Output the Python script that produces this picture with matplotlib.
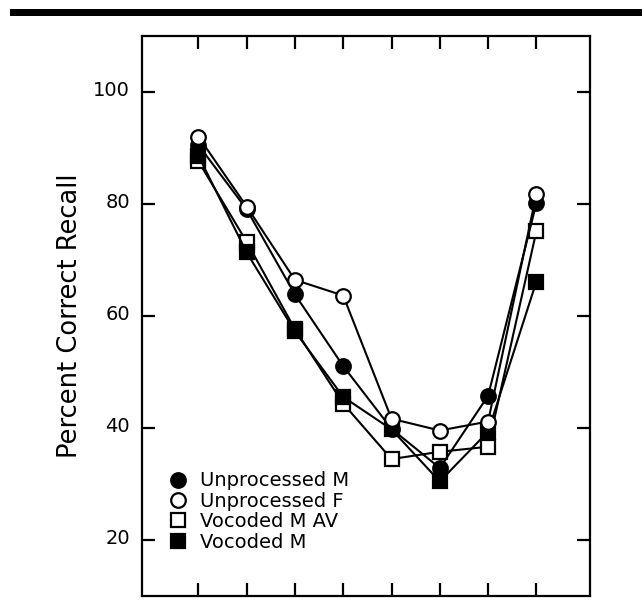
import matplotlib
matplotlib.use("Agg")
from matplotlib import pyplot as plt
from matplotlib.lines import Line2D
from matplotlib.patches import Rectangle
import matplotlib.transforms as mtransforms

# data
positions = [1, 2, 3, 4, 5, 6, 7, 8]
unprocessed_m = [90.5, 79.0, 63.8, 51.0, 39.8, 32.8, 45.7, 80.1]
unprocessed_f = [92.0, 79.5, 66.4, 63.6, 41.6, 39.5, 41.1, 81.7]
vocoded_m_av = [87.6, 73.2, 57.6, 44.3, 34.4, 35.7, 36.6, 75.1]
vocoded_m = [88.6, 71.3, 57.2, 45.5, 39.7, 30.4, 39.3, 66.1]

y_ticks = [20, 40, 60, 80, 100]

W, H = 642, 606
fig = plt.figure(figsize=(W / 100, H / 100), dpi=100)

# axes box in pixels
left, right, top, bottom = 142.3, 590.0, 35.7, 595.7
ax = fig.add_axes([left / W, 1 - bottom / H, (right - left) / W, (bottom - top) / H])

# thick black rule across the top of the page
fig.add_artist(Rectangle((10 / W, 1 - 16 / H), 1 - 10 / W, 7 / H,
                         transform=fig.transFigure, color='black', lw=0))

lw = 1.5
mew = 1.6
circ = 10.5
sq = 9.5

ax.plot(positions, vocoded_m_av, color='black', lw=lw, marker='s', ms=sq,
        mfc='white', mec='black', mew=mew, zorder=3)
ax.plot(positions, vocoded_m, color='black', lw=lw, marker='s', ms=sq,
        mfc='black', mec='black', mew=mew, zorder=4)
ax.plot(positions, unprocessed_m, color='black', lw=lw, marker='o', ms=circ,
        mfc='black', mec='black', mew=mew, zorder=5)
ax.plot(positions, unprocessed_f, color='black', lw=lw, marker='o', ms=circ,
        mfc='white', mec='black', mew=mew, zorder=6)

ax.set_xlim(-0.16, 9.11)
ax.set_ylim(10, 110)
ax.set_xticks(positions)
ax.set_xticklabels([])
ax.set_yticks(y_ticks)
ax.set_yticklabels([str(t) for t in y_ticks], fontsize=14)

for s in ax.spines.values():
    s.set_linewidth(1.6)
ax.tick_params(axis='both', direction='in', length=9.5, width=1.6,
               top=True, right=True, pad=9)

# labels sit a little above their ticks
shift = mtransforms.ScaledTranslation(0, 3 / 100, fig.dpi_scale_trans)
for lab in ax.get_yticklabels():
    lab.set_transform(lab.get_transform() + shift)

ax.set_ylabel("Percent Correct Recall", fontsize=18.5, labelpad=7)

handles = [
    Line2D([], [], ls='none', marker='o', ms=circ, mfc='black', mec='black', mew=mew),
    Line2D([], [], ls='none', marker='o', ms=circ, mfc='white', mec='black', mew=mew),
    Line2D([], [], ls='none', marker='s', ms=sq, mfc='white', mec='black', mew=mew),
    Line2D([], [], ls='none', marker='s', ms=sq, mfc='black', mec='black', mew=mew),
]
labels = ["Unprocessed M", "Unprocessed F", "Vocoded M AV", "Vocoded M"]
ax.legend(handles, labels, loc='lower left', bbox_to_anchor=(0.041, 0.065),
          frameon=False, fontsize=14, handlelength=1.0, handletextpad=0.6,
          labelspacing=0.07, borderaxespad=0)

plt.savefig('out.png', dpi=100)
